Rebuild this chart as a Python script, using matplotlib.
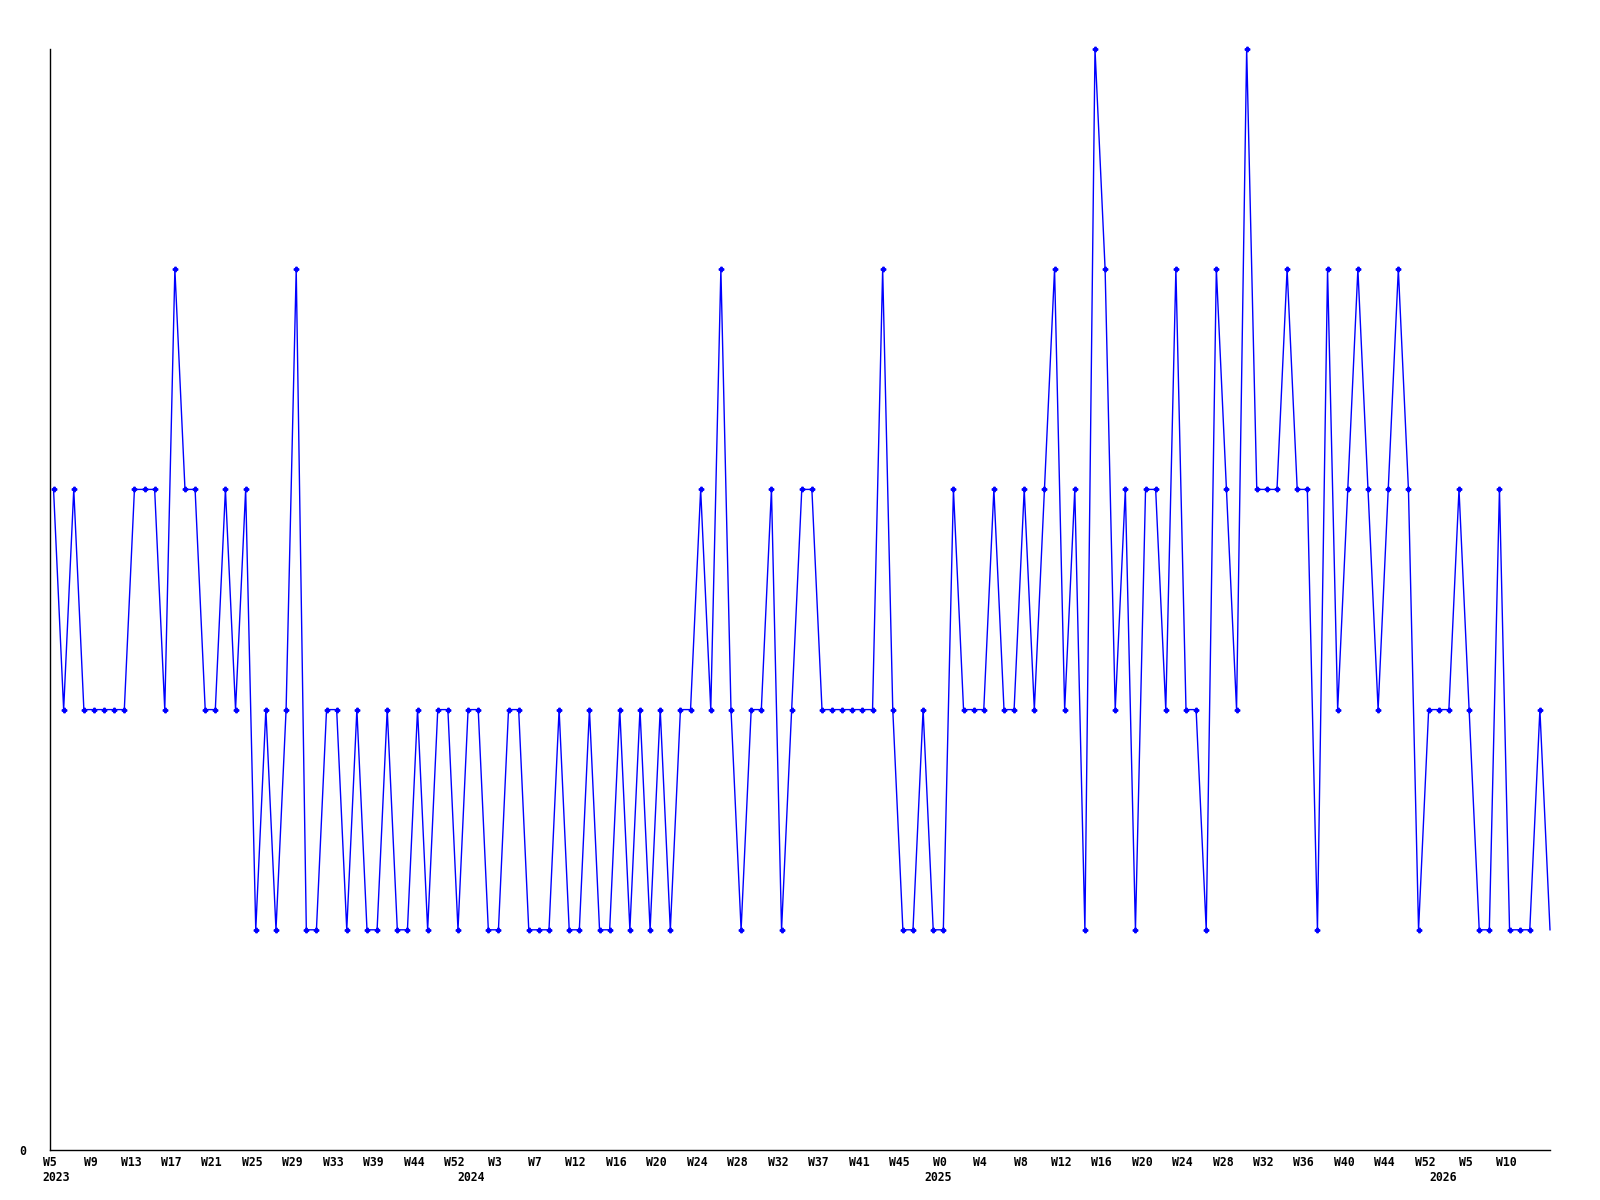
import numpy as np
import matplotlib
matplotlib.use("Agg")
import matplotlib.pyplot as plt

# weekly values, one per week
values = [3, 2, 3, 2, 2, 2, 2, 2, 3, 3, 3, 2, 4, 3, 3, 2, 2, 3, 2, 3,
          1, 2, 1, 2, 4, 1, 1, 2, 2, 1, 2, 1, 1, 2, 1, 1, 2, 1, 2, 2,
          1, 2, 2, 1, 1, 2, 2, 1, 1, 1, 2, 1, 1, 2, 1, 1, 2, 1, 2, 1,
          2, 1, 2, 2, 3, 2, 4, 2, 1, 2, 2, 3, 1, 2, 3, 3, 2, 2, 2, 2,
          2, 2, 4, 2, 1, 1, 2, 1, 1, 3, 2, 2, 2, 3, 2, 2, 3, 2, 3, 4,
          2, 3, 1, 5, 4, 2, 3, 1, 3, 3, 2, 4, 2, 2, 1, 4, 3, 2, 5, 3,
          3, 3, 4, 3, 3, 1, 4, 2, 3, 4, 3, 2, 3, 4, 3, 1, 2, 2, 2, 3,
          2, 1, 1, 3, 1, 1, 1, 2, 1]

# one label every 4 weeks
week_labels = ['W5', 'W9', 'W13', 'W17', 'W21', 'W25', 'W29', 'W33', 'W39',
               'W44', 'W52', 'W3', 'W7', 'W12', 'W16', 'W20', 'W24', 'W28',
               'W32', 'W37', 'W41', 'W45', 'W0', 'W4', 'W8', 'W12', 'W16',
               'W20', 'W24', 'W28', 'W32', 'W36', 'W40', 'W44', 'W52', 'W5',
               'W10']
year_labels = ['2023', '2024', '2025', '2026']
year_weeks = [0.3, 41.3, 87.5, 137.4]

x = np.arange(len(values))
tick_pos = np.arange(len(week_labels)) * 4

fig = plt.figure(figsize=(16, 12), dpi=100)
ax = fig.add_axes([50/1600, 1 - 1150/1200, 1500/1600, 1101/1200])

ax.plot(x, values, color='#0000ff', lw=1.0, marker='P', ms=3.2,
        markevery=slice(0, len(values) - 1), clip_on=False)

ax.set_xlim(0, len(values) - 1)
ax.set_ylim(0, 5)

for s in ['top', 'right']:
    ax.spines[s].set_visible(False)
for s in ['left', 'bottom']:
    ax.spines[s].set_linewidth(1.0)
    ax.spines[s].set_color('black')

font = dict(family='DejaVu Sans Mono', weight='bold', size=8.3)

ax.set_xticks(tick_pos - 0.35)
ax.set_xticklabels(week_labels, **font)
ax.tick_params(axis='x', length=0, pad=4)

ax.set_yticks([0])
ax.set_yticklabels(['0'], **font)
ax.tick_params(axis='y', length=0, pad=17)

for lab, pos in zip(year_labels, year_weeks):
    ax.annotate(lab, xy=(pos, 0), xycoords=('data', 'axes fraction'),
                xytext=(0, -15), textcoords='offset points',
                ha='center', va='top', **font)

fig.savefig('out.png', dpi=100, facecolor='white')
